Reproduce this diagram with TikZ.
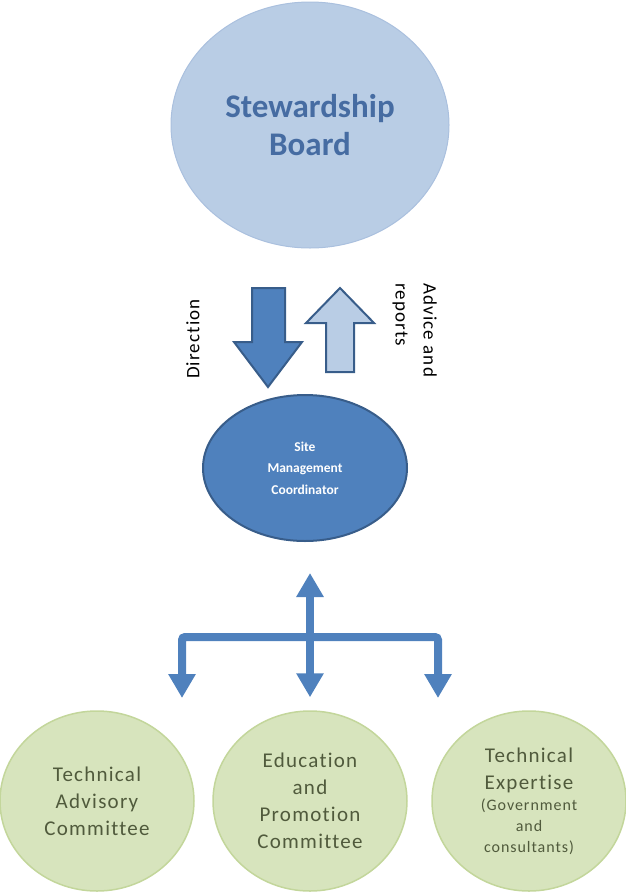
\documentclass[tikz,border=0pt]{standalone}
\usepackage{fontspec}
\setmainfont{Carlito}
\newfontfamily\spacedfont[LetterSpace=6, Ligatures=NoCommon]{Carlito}
\usetikzlibrary{arrows.meta,positioning,shapes.geometric}
\definecolor{boardfill}{RGB}{185,205,229}
\definecolor{boardline}{RGB}{170,192,222}
\definecolor{boardtext}{RGB}{70,108,162}
\definecolor{midblue}{RGB}{79,129,189}
\definecolor{darkblue}{RGB}{56,93,138}
\definecolor{greenfill}{RGB}{215,228,189}
\definecolor{greenline}{RGB}{195,214,155}
\definecolor{greentext}{RGB}{80,90,60}
\tikzset{%
  % Specifications for style of arrows:
   link/.style={
           draw=midblue,
           line width=8pt,
           rounded corners=3pt,
           -{Triangle[width=26pt,length=24pt]}},
   blockarrow/.style={
           draw=darkblue,
           line width=2pt,
           line join=miter},
   downarrow/.style={
           blockarrow,
           fill=midblue},
   uparrow/.style={
           blockarrow,
           fill=boardfill},
  % Specifications for style of nodes:
   base/.style = {ellipse, inner sep=0pt, align=center},
   board/.style = {base, fill=boardfill, draw=boardline, line width=1pt,
                  minimum width=278pt, minimum height=246pt,
                  text=boardtext, font=\fontsize{33}{38}\selectfont\bfseries},
   coordinator/.style = {base, fill=midblue, draw=darkblue, line width=2pt,
                  minimum width=204pt, minimum height=146pt,
                  text=white, font=\fontsize{13.5}{21.5}\selectfont\bfseries},
   committee/.style = {base, fill=greenfill, draw=greenline, line width=1.5pt,
                  minimum width=194pt, minimum height=180pt,
                  text=greentext, font=\spacedfont\fontsize{21}{27}\selectfont},
   sidetext/.style = {inner sep=0pt, align=left,
                  font=\spacedfont\fontsize{19}{28}\selectfont},
}
\newcommand{\smallline}{\fontsize{16}{21}\selectfont}
\begin{document}
\begin{tikzpicture}[x=1pt, y=-1pt, node distance=340pt]
  \useasboundingbox (0,0) rectangle (626,892);

  % Specification of nodes (position, etc.)
  \node (board_block) [board] at (310,125) {Stewardship\\Board};
  \node (smc_block) [coordinator, below of=board_block, xshift=-5pt, yshift=-3pt] {Site\\Management\\Coordinator};
  \node (epc_block) [committee, below of=smc_block, yshift=7pt, xshift=5pt] {Education\\and\\Promotion\\Committee};
  \node (tac_block) [committee, left of=epc_block, node distance=213pt] {Technical\\Advisory\\Committee};
  \node (tex_block) [committee, right of=epc_block, node distance=219pt]
        {Technical\\Expertise\\[-6pt]\smallline(Government\\[-6pt]\smallline and\\[-6pt]\smallline consultants)};

  % Labels beside the block arrows
  \node (direction_label) [sidetext, rotate=90] at (193,339) {Direction};
  \node (advice_label) [sidetext, rotate=-90, anchor=north west] at (437,283) {Advice and\\reports};

  % Block arrows between board and coordinator
  \draw[downarrow] (252,288) -- (285,288) -- (285,342) -- (302,342) -- (268,387)
                   -- (234,342) -- (252,342) -- cycle;
  \draw[uparrow]   (326,372) -- (354,372) -- (354,323) -- (374,323) -- (340,288)
                   -- (306,323) -- (326,323) -- cycle;

  % Links to the committees
  \coordinate (hub) at (310,637);
  \coordinate (smc_tip) at (310,573);
  \coordinate (tac_tip) at (182,698);
  \coordinate (tex_tip) at (438,698);
  \draw[link] (hub) -- (smc_tip);
  \draw[link] (hub) -| (tac_tip);
  \draw[link] (hub) -| (tex_tip);
  \draw[link] (hub) -- ([yshift=13pt]epc_block.north);

\end{tikzpicture}
\end{document}
